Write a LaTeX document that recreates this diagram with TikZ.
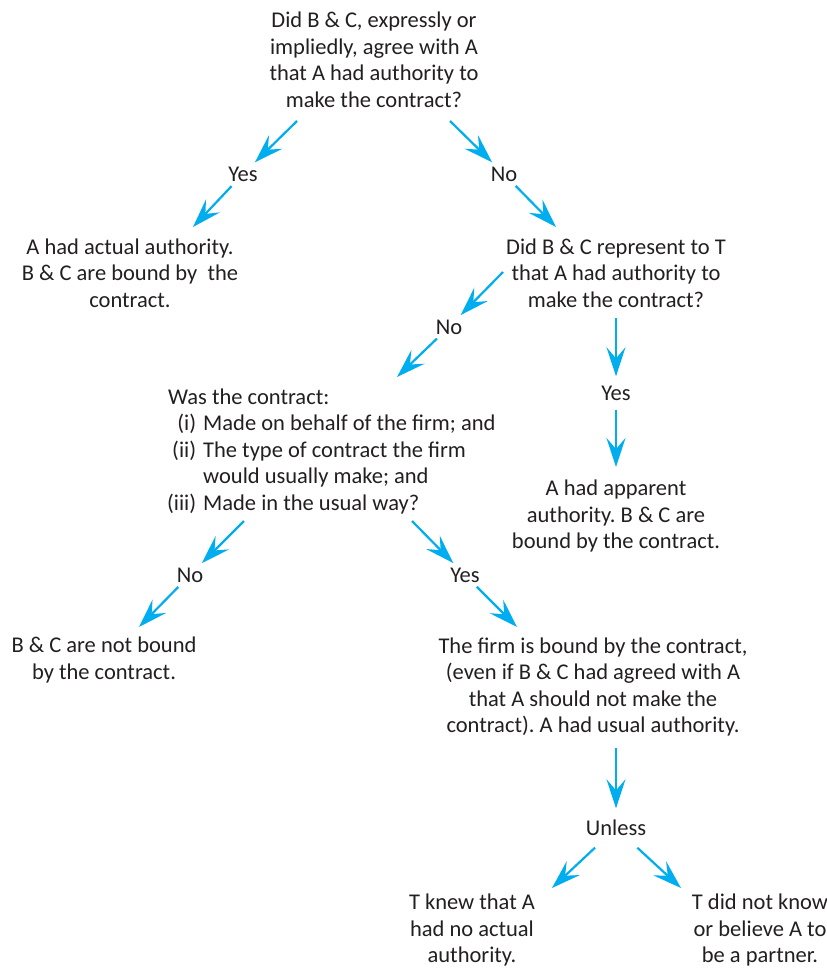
\documentclass[tikz,border=0pt]{standalone}
\usepackage{fontspec}
\setmainfont{Carlito}
\usetikzlibrary{arrows.meta}
\definecolor{flowblue}{RGB}{0,174,239}
\definecolor{inkgrey}{RGB}{35,31,32}
\newcommand{\itm}[1]{\makebox[28pt][r]{#1}\hspace{7pt}}
\frenchspacing

\begin{document}
\begin{tikzpicture}[x=1pt, y=-1pt,
    txt/.style={inner sep=0pt, align=center, text=inkgrey, font=\fontsize{22.5}{26.5}\selectfont},
    reply/.style={txt, circle, minimum size=33pt},
    flow/.style={-{Stealth[length=29pt,width=19pt,inset=11pt]}, line width=2.2pt, draw=flowblue}]
    \useasboundingbox (0,0) rectangle (827,969);

    \node (agree) [txt] at (374,60) {Did B \& C, expressly or\\impliedly, agree with A\\that A had authority to\\make the contract?};
    \node (yesA) [reply] at (243,174) {Yes};
    \node (noA) [reply] at (504,174) {No};
    \node (actual) [txt] at (130,273) {A had actual authority.\\B \& C are bound by \ the\\contract.};
    \node (represent) [txt] at (616,273) {Did B \& C represent to T\\that A had authority to\\make the contract?};
    \node (noB) [reply] at (449,327) {No};
    \node (yesB) [reply] at (616,393) {Yes};
    \node (apparent) [txt] at (616,516) {A had apparent\\authority. B \& C are\\bound by the contract.};
    \node (usual) [txt, align=left, anchor=west] at (168,451) {Was the contract:\\\itm{(i)}Made on behalf of the firm; and\\\itm{(ii)}The type of contract the firm\\\hspace*{35pt}would usually make; and\\\itm{(iii)}Made in the usual way?};
    \node (noC) [reply] at (190,575) {No};
    \node (yesC) [reply] at (465,575) {Yes};
    \node (notbound) [txt] at (104,660) {B \& C are not bound\\by the contract.};
    \node (firm) [txt] at (593,687) {The firm is bound by the contract,\\(even if B \& C had agreed with A\\that A should not make the\\contract). A had usual authority.};
    \node (unless) [txt, rectangle, minimum height=39pt] at (616,828) {Unless};
    \node (knew) [txt] at (472,930) {T knew that A\\had no actual\\authority.};
    \node (didnot) [txt] at (760,930) {T did not know\\or believe A to\\be a partner.};

    \coordinate (agreeL) at (297,121);
    \coordinate (agreeR) at (450,121);
    \coordinate (actualIn) at (193,227);
    \coordinate (representIn) at (556,227);
    \coordinate (representL) at (503,272);
    \coordinate (representB) at (616,318);
    \coordinate (usualIn) at (397,377);
    \coordinate (apparentIn) at (616,467);
    \coordinate (usualL) at (244,521);
    \coordinate (usualR) at (412,521);
    \coordinate (notboundIn) at (139,627);
    \coordinate (firmIn) at (517,627);
    \coordinate (firmB) at (616,748);
    \coordinate (knewIn) at (552,888);
    \coordinate (didnotIn) at (681,888);

    \draw[flow] (agreeL) -- (yesA);
    \draw[flow] (yesA) -- (actualIn);
    \draw[flow] (agreeR) -- (noA);
    \draw[flow] (noA) -- (representIn);
    \draw[flow] (representL) -- (noB);
    \draw[flow] (noB) -- (usualIn);
    \draw[flow] (representB) -- (yesB);
    \draw[flow] (yesB) -- (apparentIn);
    \draw[flow] (usualL) -- (noC);
    \draw[flow] (noC) -- (notboundIn);
    \draw[flow] (usualR) -- (yesC);
    \draw[flow] (yesC) -- (firmIn);
    \draw[flow] (firmB) -- (unless);
    \draw[flow] (unless) -- (knewIn);
    \draw[flow] (unless) -- (didnotIn);
\end{tikzpicture}
\end{document}
